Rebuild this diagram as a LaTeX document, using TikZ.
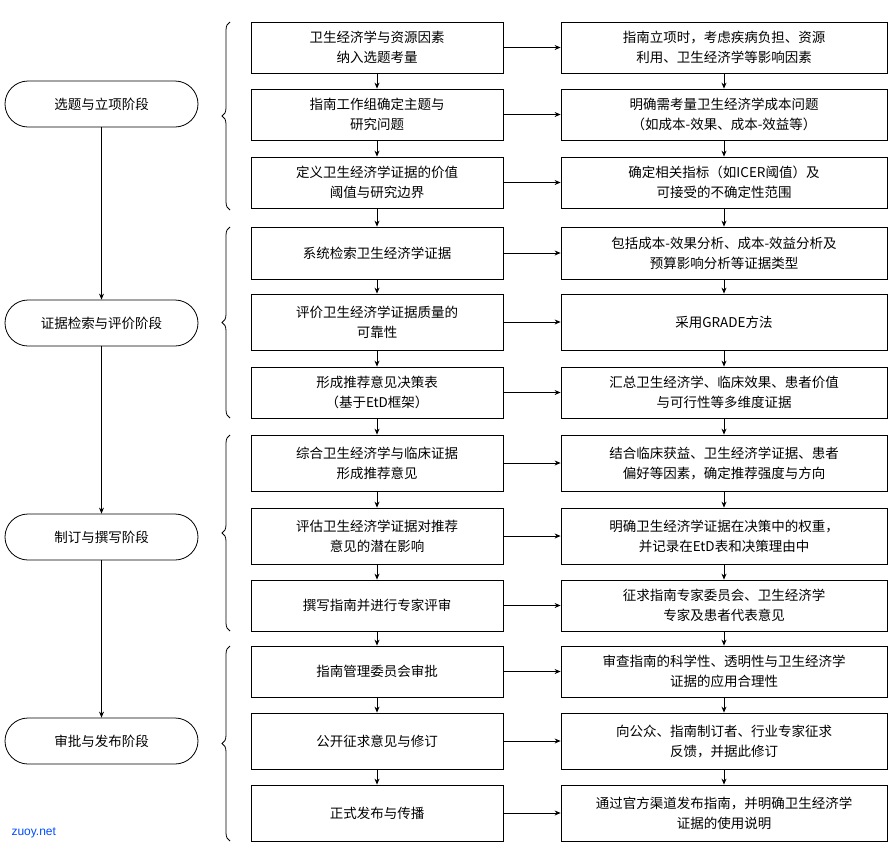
\documentclass[tikz,border=0pt]{standalone}
\usepackage{fontspec}
\setmainfont{Liberation Serif}
\newfontfamily\cjk{Noto Sans CJK SC}
\usetikzlibrary{arrows.meta,decorations.pathreplacing}
\begin{document}
\begin{tikzpicture}[x=1pt,y=-1pt,
  box/.style={draw,thick,minimum width=252pt,align=center,font=\cjk\fontsize{13.5}{20}\selectfont,inner sep=0pt},
  rbox/.style={box,minimum width=326pt},
  stage/.style={draw,thick,rounded corners=23pt,minimum width=193pt,minimum height=46pt,font=\cjk\fontsize{13.5}{15}\selectfont},
  arr/.style={-{Stealth[length=6pt,width=5pt]},thick},
  br/.style={thick,decorate,decoration={brace,amplitude=8pt,mirror}}]
\useasboundingbox (0,0) rectangle (895,849);
\node[stage] (s1) at (101.5,104) {选题与立项阶段};
\node[stage] (s2) at (101.5,323) {证据检索与评价阶段};
\node[stage] (s3) at (101.5,537) {制订与撰写阶段};
\node[stage] (s4) at (101.5,741) {审批与发布阶段};
\draw[arr] (s1)--(s2); \draw[arr] (s2)--(s3); \draw[arr] (s3)--(s4);
\def\row#1#2#3#4#5{%
 \node[box,minimum height=#3pt] (m#1) at (377,#2) {#4};
 \node[rbox,minimum height=#3pt] (r#1) at (724,#2) {#5};
 \draw[arr] (m#1)--(r#1);}
\row{1}{47.5}{51}{卫生经济学与资源因素\\纳入选题考量}{指南立项时，考虑疾病负担、资源\\利用、卫生经济学等影响因素}
\row{2}{114.5}{51}{指南工作组确定主题与\\研究问题}{明确需考量卫生经济学成本问题\\（如成本-效果、成本-效益等）}
\row{3}{182.5}{51}{定义卫生经济学证据的价值\\阈值与研究边界}{确定相关指标（如ICER阈值）及\\可接受的不确定性范围}
\row{4}{253}{52}{系统检索卫生经济学证据}{包括成本-效果分析、成本-效益分析及\\预算影响分析等证据类型}
\row{5}{322}{56}{评价卫生经济学证据质量的\\可靠性}{采用GRADE方法}
\row{6}{392.5}{51}{形成推荐意见决策表\\（基于EtD框架）}{汇总卫生经济学、临床效果、患者价值\\与可行性等多维度证据}
\row{7}{463}{56}{综合卫生经济学与临床证据\\形成推荐意见}{结合临床获益、卫生经济学证据、患者\\偏好等因素，确定推荐强度与方向}
\row{8}{536}{56}{评估卫生经济学证据对推荐\\意见的潜在影响}{明确卫生经济学证据在决策中的权重，\\并记录在EtD表和决策理由中}
\row{9}{605.5}{51}{撰写指南并进行专家评审}{征求指南专家委员会、卫生经济学\\专家及患者代表意见}
\row{10}{671.5}{51}{指南管理委员会审批}{审查指南的科学性、透明性与卫生经济学\\证据的应用合理性}
\row{11}{741}{56}{公开征求意见与修订}{向公众、指南制订者、行业专家征求\\反馈，并据此修订}
\row{12}{813}{56}{正式发布与传播}{通过官方渠道发布指南，并明确卫生经济学\\证据的使用说明}
\foreach \a/\b in {1/2,2/3,3/4,4/5,5/6,6/7,7/8,8/9,9/10,10/11,11/12}{
  \draw[arr] (m\a)--(m\b); \draw[arr] (r\a)--(r\b);}
\draw[br] (230,22)--(230,210);
\draw[br] (230,227)--(230,418);
\draw[br] (230,435)--(230,631);
\draw[br] (230,646)--(230,841);
\node[font=\fontspec{Liberation Sans}\fontsize{12}{12}\selectfont,text=blue!70!cyan,anchor=west] (w) at (8,833) {zuoy.net};
\end{tikzpicture}
\end{document}
